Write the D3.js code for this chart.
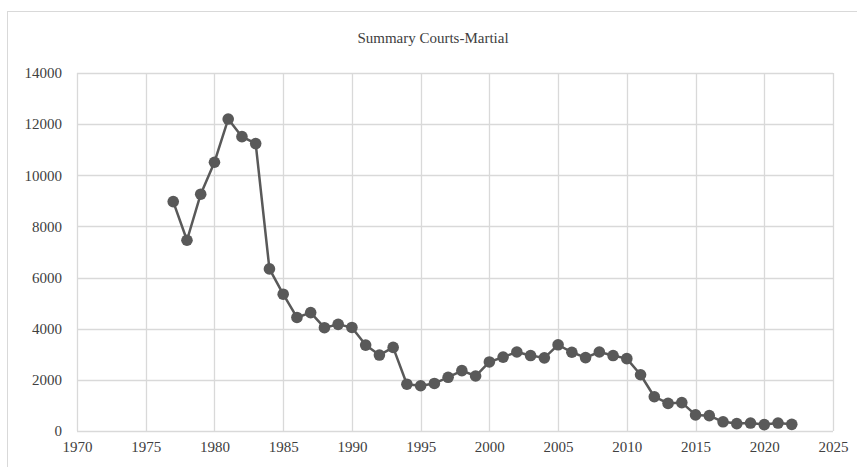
<!DOCTYPE html>
<html>
<head>
<meta charset="utf-8">
<script src="https://cdn.jsdelivr.net/npm/d3@7"></script>
<style>
  body { margin: 0; background: #fff; }
</style>
</head>
<body>
<script>
// Summary courts-martial per year
const years = [1977, 1978, 1979, 1980, 1981, 1982, 1983, 1984, 1985, 1986,
               1987, 1988, 1989, 1990, 1991, 1992, 1993, 1994, 1995, 1996,
               1997, 1998, 1999, 2000, 2001, 2002, 2003, 2004, 2005, 2006,
               2007, 2008, 2009, 2010, 2011, 2012, 2013, 2014, 2015, 2016,
               2017, 2018, 2019, 2020, 2021, 2022];
const counts = [8970, 7460, 9260, 10510, 12200, 11510, 11240, 6340, 5350, 4440,
                4630, 4040, 4170, 4050, 3360, 2970, 3270, 1830, 1770, 1860,
                2100, 2360, 2150, 2700, 2890, 3090, 2950, 2860, 3370, 3080,
                2870, 3090, 2950, 2830, 2200, 1340, 1080, 1110, 630, 600,
                360, 290, 310, 250, 310, 260];
const xTicks = [1970, 1975, 1980, 1985, 1990, 1995, 2000, 2005, 2010, 2015, 2020, 2025];
const yTicks = [0, 2000, 4000, 6000, 8000, 10000, 12000, 14000];

const width = 857, height = 467;
const margin = {left: 77, right: 24, top: 73, bottom: 36};
const serif = "'Liberation Serif', 'DejaVu Serif', 'Times New Roman', serif";

const svg = d3.select("body").append("svg")
  .attr("width", width)
  .attr("height", height)
  .style("font-family", serif);

// chart frame
svg.append("rect")
  .attr("x", 7.5).attr("y", 11.5)
  .attr("width", 851).attr("height", 500)
  .attr("fill", "none")
  .attr("stroke", "#d9d9d9");

svg.append("text")
  .attr("x", 433).attr("y", 43)
  .attr("text-anchor", "middle")
  .style("font-family", serif)
  .style("font-size", "15px")
  .attr("fill", "#404040")
  .text("Summary Courts-Martial");

const x = d3.scaleLinear().domain([1970, 2025]).range([margin.left, width - margin.right]);
const y = d3.scaleLinear().domain([0, 14000]).range([height - margin.bottom, margin.top]);

// grid
svg.append("g")
  .selectAll("line")
  .data(yTicks)
  .join("line")
  .attr("x1", x(1970)).attr("x2", x(2025))
  .attr("y1", d => Math.round(y(d)) + 0.5).attr("y2", d => Math.round(y(d)) + 0.5)
  .attr("stroke", "#d9d9d9")
  .attr("stroke-width", 1.3);

svg.append("g")
  .selectAll("line")
  .data(xTicks)
  .join("line")
  .attr("x1", d => Math.round(x(d)) + 0.5).attr("x2", d => Math.round(x(d)) + 0.5)
  .attr("y1", y(14000)).attr("y2", y(0))
  .attr("stroke", "#d9d9d9")
  .attr("stroke-width", 1.3);

// axes labels
const yAxis = d3.axisLeft(y).tickValues(yTicks).tickSize(0).tickPadding(15).tickFormat(d3.format("d"));
svg.append("g")
  .attr("transform", `translate(${margin.left},0)`)
  .call(yAxis)
  .attr("font-family", serif)
  .attr("font-size", 15)
  .call(g => g.select(".domain").remove())
  .selectAll("text")
  .attr("fill", "#404040");

const xAxis = d3.axisBottom(x).tickValues(xTicks).tickSize(0).tickPadding(10).tickFormat(d3.format("d"));
svg.append("g")
  .attr("transform", `translate(0,${y(0)})`)
  .call(xAxis)
  .attr("font-family", serif)
  .attr("font-size", 15)
  .call(g => g.select(".domain").remove())
  .selectAll("text")
  .attr("fill", "#404040");

// series
const pts = years.map((yr, i) => ({yr, v: counts[i]}));

svg.append("path")
  .datum(pts)
  .attr("fill", "none")
  .attr("stroke", "#595959")
  .attr("stroke-width", 2.5)
  .attr("stroke-linejoin", "round")
  .attr("d", d3.line().x(d => x(d.yr)).y(d => y(d.v)));

svg.append("g")
  .selectAll("circle")
  .data(pts)
  .join("circle")
  .attr("cx", d => x(d.yr))
  .attr("cy", d => y(d.v))
  .attr("r", 5.8)
  .attr("fill", "#595959");
</script>
</body>
</html>
